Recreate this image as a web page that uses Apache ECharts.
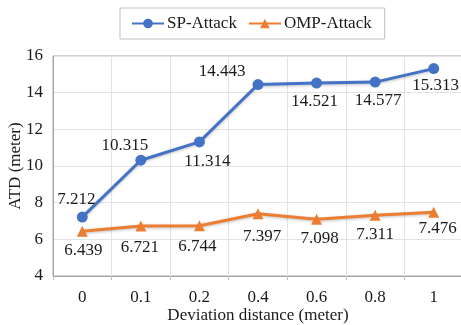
<!DOCTYPE html>
<html><head><meta charset="utf-8">
<script src="https://cdn.jsdelivr.net/npm/echarts@6/dist/echarts.min.js"></script>
<style>html,body{margin:0;padding:0;background:#fff}#c{width:461px;height:325px}</style>
</head><body><div id="c"></div>
<script>
const categories = ['0','0.1','0.2','0.4','0.6','0.8','1'];
const spAttack = [7.212, 10.315, 11.314, 14.443, 14.521, 14.577, 15.313];
const ompAttack = [6.439, 6.721, 6.744, 7.397, 7.098, 7.311, 7.476];
const yTicks = [4, 6, 8, 10, 12, 14, 16];

// label placement (style only)
const spLabelPos = [
  {position:'top', offset:[-6,3]},
  {position:'top', offset:[-16,6]},
  {position:'bottom', offset:[8,-1]},
  {position:'top', offset:[-36,8]},
  {position:'bottom', offset:[-2,-3]},
  {position:'bottom', offset:[3,-3]},
  {position:'bottom', offset:[2,-4]}
];
const ompLabelPos = [
  {position:'bottom', offset:[1,-2]},
  {position:'bottom', offset:[-1,0]},
  {position:'bottom', offset:[-2,0]},
  {position:'bottom', offset:[4,2]},
  {position:'bottom', offset:[3,-2]},
  {position:'bottom', offset:[0,-2]},
  {position:'bottom', offset:[4,-5]}
];

const font = 'Liberation Serif';
const txt = '#1a1a1a';
const fs = 17;
const chart = echarts.init(document.getElementById('c'), null, {renderer:'canvas'});
chart.setOption({
  animation:false,
  textStyle:{fontFamily:font},
  legend:{
    left:120, top:8,
    padding:[7,13,7,11],
    borderColor:'#bfbfbf', borderWidth:1,
    itemWidth:32, itemHeight:12, itemGap:11,
    textStyle:{fontFamily:font, fontSize:fs, color:txt, padding:[0,0,0,-2]},
    data:['SP-Attack','OMP-Attack']
  },
  grid:{left:53, right:-2, top:56, bottom:49, show:true, borderColor:'#a6a6a6', borderWidth:1,
        containLabel:false, outerBoundsMode:'none'},
  xAxis:{
    type:'category', data:categories, boundaryGap:true,
    name:'Deviation distance (meter)', nameLocation:'middle', nameGap:31, nameMoveOverlap:false,
    nameTextStyle:{fontFamily:font, fontSize:fs, color:txt},
    axisLine:{lineStyle:{color:'#a6a6a6'}},
    axisTick:{show:true, length:4, lineStyle:{color:'#bfbfbf'}},
    axisLabel:{fontFamily:font, fontSize:fs, color:txt, margin:13},
    splitLine:{show:true, lineStyle:{color:'#e3e3e3'}}
  },
  yAxis:{
    type:'value', min:yTicks[0], max:yTicks[yTicks.length-1], interval:2,
    name:'ATD (meter)', nameLocation:'middle', nameGap:29, nameMoveOverlap:false,
    nameTextStyle:{fontFamily:font, fontSize:fs, color:txt},
    axisLine:{show:true, lineStyle:{color:'#a6a6a6'}},
    axisTick:{show:false},
    axisLabel:{fontFamily:font, fontSize:fs, color:txt, margin:10},
    splitLine:{show:true, lineStyle:{color:'#e3e3e3'}}
  },
  series:[
    {
      name:'SP-Attack', type:'line', data:spAttack.map((v,i)=>({value:v, label:spLabelPos[i]})),
      symbol:'circle', symbolSize:11,
      itemStyle:{color:'#4472C4'},
      lineStyle:{width:3, color:'#4472C4', shadowColor:'rgba(0,0,0,0.25)', shadowBlur:3, shadowOffsetY:1},
      label:{show:true, fontFamily:font, fontSize:fs, color:txt, distance:7, formatter:p=>p.value.toFixed(3)}
    },
    {
      name:'OMP-Attack', type:'line', data:ompAttack.map((v,i)=>({value:v, label:ompLabelPos[i]})),
      symbol:'triangle', symbolSize:11,
      itemStyle:{color:'#ED7D31'},
      lineStyle:{width:3, color:'#ED7D31', shadowColor:'rgba(0,0,0,0.25)', shadowBlur:3, shadowOffsetY:1},
      label:{show:true, fontFamily:font, fontSize:fs, color:txt, distance:7, formatter:p=>p.value.toFixed(3)}
    }
  ]
});
</script></body></html>
